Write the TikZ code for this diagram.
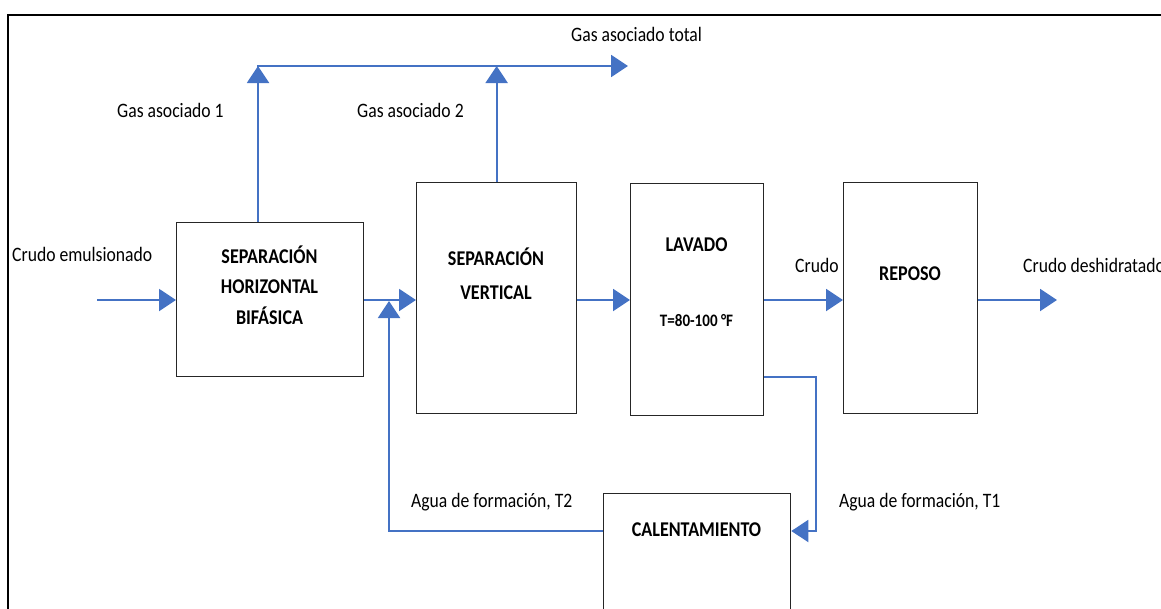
\documentclass[tikz,border=0pt]{standalone}
\usepackage{fontspec}
\setmainfont{Carlito}[FakeStretch=0.86]
\usetikzlibrary{arrows.meta}
\definecolor{flowblue}{HTML}{4472C4}
\begin{document}
\begin{tikzpicture}[x=1pt,y=-1pt,
  box/.style={draw=black!85, line width=1.3pt, inner sep=0pt, anchor=north west, fill=white},
  flow/.style={draw=flowblue, line width=2pt, -{Triangle[length=17pt,width=22pt]}},
  lbl/.style={font=\fontsize{20.5}{24}\selectfont, inner sep=0pt, anchor=base west},
  btxt/.style={font=\bfseries\fontsize{21}{25}\selectfont, inner sep=0pt, anchor=base},
  stxt/.style={font=\bfseries\fontsize{17.5}{21}\selectfont, inner sep=0pt, anchor=base},
]
\useasboundingbox (0,0) rectangle (1161,608);
% frame
\draw[black, line width=2pt] (8,620) -- (8,15) -- (1170,15);

% boxes
\node[box, minimum width=187pt, minimum height=154pt] (b1) at (176,222) {};
\node[box, minimum width=160pt, minimum height=231pt] (b2) at (416,182) {};
\node[box, minimum width=133pt, minimum height=232pt] (b3) at (630,183) {};
\node[box, minimum width=134pt, minimum height=231pt] (b4) at (843,182) {};
\node[box, minimum width=187pt, minimum height=160pt] (b5) at (603,493) {};

% box texts
\node[btxt] (b1a) at (269.5,263) {SEPARACIÓN};
\node[btxt] (b1b) at (269.5,293) {HORIZONTAL};
\node[btxt] (b1c) at (269.5,324) {BIFÁSICA};
\node[btxt] (b2a) at (496,265) {SEPARACIÓN};
\node[btxt] (b2b) at (496,299) {VERTICAL};
\node[btxt] (b3a) at (696.5,251) {LAVADO};
\node[stxt] (b3b) at (696.5,326) {T=80-100 °F};
\node[btxt] (b4a) at (910,280) {REPOSO};
\node[btxt] (b5a) at (696.5,536) {CALENTAMIENTO};

% coordinates
\coordinate (in) at (97,300);
\coordinate (out) at (1057,300);
\coordinate (g1) at (258,66);
\coordinate (gl) at (257,66);
\coordinate (gt) at (628,66);
\coordinate (fb) at (389,531);
\coordinate (fbtop) at (389,301);
\coordinate (w1) at (816,377);

% main flow
\draw[flow] (in) -- (b1.west |- in);
\draw[flow] (b1.east |- in) -- (b2.west |- in);
\draw[flow] (b2.east |- in) -- (b3.west |- in);
\draw[flow] (b3.east |- in) -- (b4.west |- in);
\draw[flow] (b4.east |- in) -- (out);

% gas
\draw[flow] (gl) -- (gt);
\draw[flow] (b1.north -| g1) -- (g1);
\draw[flow] (b2.north) -- (b2.north |- gt);

% water
\draw[flow] (b3.east |- w1) -- (w1) -- (w1 |- fb) -- (b5.east |- fb);
\draw[flow] (b5.west |- fb) -- (fb) -- (fbtop);

% labels
\node[lbl] (l1) at (12,261) {Crudo emulsionado};
\node[lbl] (l2) at (117,117) {Gas asociado 1};
\node[lbl] (l3) at (357,117) {Gas asociado 2};
\node[lbl] (l4) at (571,41) {Gas asociado total};
\node[lbl] (l5) at (795,272) {Crudo};
\node[lbl] (l6) at (1023,272) {Crudo deshidratado};
\node[lbl] (l7) at (411,507) {Agua de formación, T2};
\node[lbl] (l8) at (839,507) {Agua de formación, T1};
\end{tikzpicture}
\end{document}
